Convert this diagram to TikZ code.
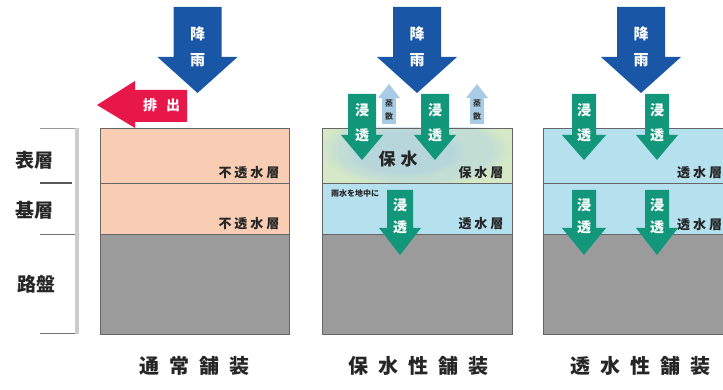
\documentclass[tikz,border=0pt]{standalone}
\usepackage{fontspec}
\newfontfamily\jp{Noto Sans CJK JP}
\usetikzlibrary{fadings}
\definecolor{peach}{HTML}{F9CDB4}
\definecolor{ground}{HTML}{9B9B9B}
\definecolor{lgreen}{HTML}{D6E9C6}
\definecolor{lblue}{HTML}{B5E1EE}
\definecolor{rainblue}{HTML}{1A56A6}
\definecolor{outred}{HTML}{E8174A}
\definecolor{seepgreen}{HTML}{13977A}
\definecolor{evapblue}{HTML}{A8CCE6}
\definecolor{blob}{HTML}{A9CFE6}
\newcommand\gapj{\hspace{10pt}}
\newcommand\gapk{\hspace{3pt}}
\newcommand\dnarr[7]{%
  \fill[#7] ({#1-#5},#2) -- ({#1+#5},#2) -- ({#1+#5},#3) -- ({#1+#6},#3) -- (#1,#4) -- ({#1-#6},#3) -- ({#1-#5},#3) -- cycle;}
\newcommand\uparr[7]{%
  \fill[#7] ({#1-#5},#2) -- ({#1+#5},#2) -- ({#1+#5},#3) -- ({#1+#6},#3) -- (#1,#4) -- ({#1-#6},#3) -- ({#1-#5},#3) -- cycle;}
\tikzset{
  edge/.style={draw=black!60, line width=0.8pt},
  rainch/.style={text=white, font=\jp\bfseries\fontsize{15}{15}\selectfont, inner sep=0pt},
  seepch/.style={text=white, font=\jp\bfseries\fontsize{14}{14}\selectfont, inner sep=0pt},
  evapch/.style={text=black!80, font=\jp\bfseries\fontsize{8}{8}\selectfont, inner sep=0pt},
  layerlbl/.style={text=black!85, font=\jp\bfseries\fontsize{13}{13}\selectfont, inner sep=0pt},
  sidelbl/.style={text=black!85, font=\jp\bfseries\fontsize{19}{19}\selectfont, inner sep=0pt},
  titlelbl/.style={text=black!85, font=\jp\bfseries\fontsize{20}{20}\selectfont, inner sep=0pt},
}
\begin{document}
\begin{tikzpicture}[x=1pt,y=-1pt]
\useasboundingbox (0,0) rectangle (723,390);
% ---------- left scale ----------
\fill[black!20] (75,128) rectangle (79,334);
\draw[black!40, line width=0.6pt] (40,128) -- (75,128);
\draw[black!65, line width=1.5pt] (40,183) -- (72,183);
\draw[black!55, line width=0.8pt] (40,234) -- (75,234);
\draw[black!55, line width=0.8pt] (40,333) -- (75,333);
\node[sidelbl] (hyoso) at (35,160) {表層};
\node[sidelbl] (kiso) at (35,210) {基層};
\node[sidelbl] (roban) at (36,284) {路盤};
% ---------- panel 1 ----------
\fill[peach] (100,128) rectangle (289,234);
\fill[ground] (100,234) rectangle (289,334);
\draw[edge] (100,128) rectangle (289,334);
\draw[edge] (100,183) -- (289,183);
\draw[edge] (100,234) -- (289,234);
\node[layerlbl] (p1a) at (249,173) {不\gapk 透\gapk 水\gapk 層};
\node[layerlbl] (p1b) at (249,224) {不\gapk 透\gapk 水\gapk 層};
% ---------- panel 2 ----------
\fill[lgreen] (322,128) rectangle (512,183);
\fill[lblue] (322,183) rectangle (512,234);
\fill[ground] (322,234) rectangle (512,334);
\begin{scope}
  \clip (322,128) rectangle (512,183);
  \fill[blob, fill opacity=0.45, path fading=circle with fuzzy edge 20 percent] (415,150) ellipse (95 and 38);
  \fill[blob, fill opacity=0.45, path fading=circle with fuzzy edge 20 percent] (405,152) ellipse (60 and 25);
\end{scope}
\draw[edge] (322,128) rectangle (512,334);
\draw[edge] (322,183) -- (512,183);
\draw[edge] (322,234) -- (512,234);
\node[sidelbl, font=\jp\bfseries\fontsize{17}{17}\selectfont] (hosui) at (398,159) {保\hspace{5pt}水};
\node[layerlbl] (p2a) at (481,173) {保\gapk 水\gapk 層};
\node[layerlbl] (p2b) at (481,224) {透\gapk 水\gapk 層};
\node[text=black!85, font=\jp\bfseries\fontsize{8}{8}\selectfont, inner sep=0pt] (uchu) at (355,193) {雨水を地中に};
% ---------- panel 3 ----------
\fill[lblue] (543,128) rectangle (730,234);
\fill[ground] (543,234) rectangle (730,334);
\draw[edge] (543,128) rectangle (730,334);
\draw[edge] (543,183) -- (730,183);
\draw[edge] (543,234) -- (730,234);
\node[layerlbl, anchor=west] (p3a) at (677,173) {透\gapk 水\gapk 層};
\node[layerlbl, anchor=west] (p3b) at (677,225) {透\gapk 水\gapk 層};
% ---------- rain arrows ----------
\dnarr{197.5}{7}{57}{93}{24}{40}{rainblue}
\dnarr{417}{7}{57}{93}{24}{40}{rainblue}
\dnarr{641}{7}{57}{93}{24}{40}{rainblue}
\node[rainch] (r1a) at (197.5,34) {降};
\node[rainch] (r1b) at (197.5,60) {雨};
\node[rainch] (r2a) at (417,34) {降};
\node[rainch] (r2b) at (417,60) {雨};
\node[rainch] (r3a) at (641,34) {降};
\node[rainch] (r3b) at (641,60) {雨};
% ---------- discharge arrow ----------
\fill[outred] (187,90) -- (187,122) -- (135,122) -- (135,128) -- (97,105) -- (135,81) -- (135,90) -- cycle;
\node[seepch] (ex1) at (150,105) {排};
\node[seepch] (ex2) at (173,105) {出};
% ---------- evaporation arrows ----------
\uparr{389}{124}{98}{84}{7}{11}{evapblue}
\uparr{477}{124}{98}{84}{7}{11}{evapblue}
\node[evapch] (ev1a) at (389,103) {蒸};
\node[evapch] (ev1b) at (389,116) {散};
\node[evapch] (ev2a) at (477,103) {蒸};
\node[evapch] (ev2b) at (477,116) {散};
% ---------- seepage arrows ----------
\dnarr{362}{94}{135}{160}{14}{21}{seepgreen}
\dnarr{435}{94}{135}{160}{14}{21}{seepgreen}
\dnarr{400}{190}{228}{255}{13}{21}{seepgreen}
\dnarr{584}{94}{135}{160}{12}{22}{seepgreen}
\dnarr{657}{94}{135}{160}{12}{21}{seepgreen}
\dnarr{584}{190}{228}{255}{12}{22}{seepgreen}
\dnarr{657}{190}{228}{255}{12}{21}{seepgreen}
\node[seepch] (s1a) at (362,110) {浸};
\node[seepch] (s1b) at (362,135) {透};
\node[seepch] (s2a) at (435,110) {浸};
\node[seepch] (s2b) at (435,135) {透};
\node[seepch] (s3a) at (400,205) {浸};
\node[seepch] (s3b) at (400,227) {透};
\node[seepch] (s4a) at (584,110) {浸};
\node[seepch] (s4b) at (584,135) {透};
\node[seepch] (s5a) at (657,110) {浸};
\node[seepch] (s5b) at (657,135) {透};
\node[seepch] (s6a) at (584,205) {浸};
\node[seepch] (s6b) at (584,227) {透};
\node[seepch] (s7a) at (657,205) {浸};
\node[seepch] (s7b) at (657,227) {透};
% ---------- titles ----------
\node[titlelbl] (t1) at (194,366) {通\gapj 常\gapj 舗\gapj 装};
\node[titlelbl] (t2) at (418,366) {保\gapj 水\gapj 性\gapj 舗\gapj 装};
\node[titlelbl] (t3) at (640,366) {透\gapj 水\gapj 性\gapj 舗\gapj 装};
\end{tikzpicture}
\end{document}
